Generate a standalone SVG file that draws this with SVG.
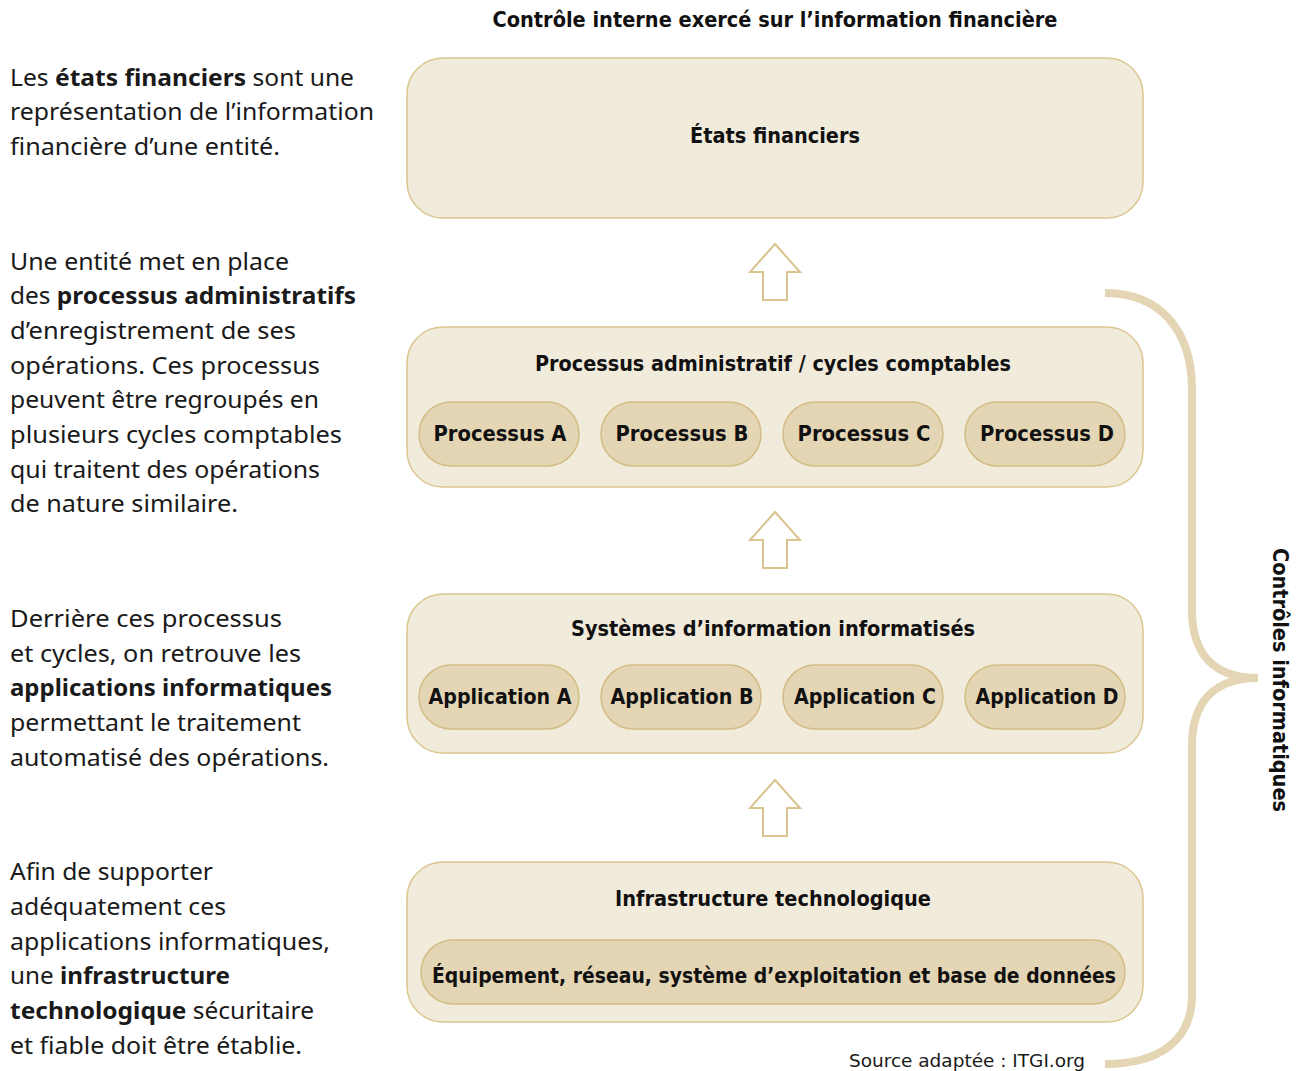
<svg xmlns="http://www.w3.org/2000/svg" width="1300" height="1071" viewBox="0 0 1300 1071">
<style>
.box{fill:#f1ebdc;stroke:#dcc690;stroke-width:1.5}
.pill{fill:#e4d6b5;stroke:#d4bd85;stroke-width:1.5}
.arrow{fill:#ffffff;stroke:#d9c38f;stroke-width:2}
.brace{fill:none;stroke:#e4d6b4;stroke-width:8}
.t{font-family:"DejaVu Sans Condensed","DejaVu Sans",sans-serif;font-weight:bold;font-size:21px;fill:#111;text-anchor:middle}
.p{font-family:"DejaVu Sans Condensed","DejaVu Sans",sans-serif;font-weight:bold;font-size:22px;fill:#111;text-anchor:middle}
.l{font-family:"Noto Sans","DejaVu Sans",sans-serif;font-size:23px;fill:#1a1a1a}
.b{font-weight:bold}
.s{font-family:"DejaVu Sans Condensed","DejaVu Sans",sans-serif;font-size:18px;fill:#1a1a1a}
</style>

<text class="t" x="775" y="27" textLength="565" lengthAdjust="spacingAndGlyphs">Contrôle interne exercé sur l’information financière</text>

<g id="left-text">
<text class="l" x="10" y="86" textLength="344" lengthAdjust="spacingAndGlyphs">Les <tspan class="b">états financiers</tspan> sont une</text>
<text class="l" x="10" y="120" textLength="364" lengthAdjust="spacingAndGlyphs">représentation de l’information</text>
<text class="l" x="10" y="155" textLength="270" lengthAdjust="spacingAndGlyphs">financière d’une entité.</text>

<text class="l" x="10" y="270" textLength="279" lengthAdjust="spacingAndGlyphs">Une entité met en place</text>
<text class="l" x="10" y="304" textLength="346" lengthAdjust="spacingAndGlyphs">des <tspan class="b">processus administratifs</tspan></text>
<text class="l" x="10" y="339" textLength="286" lengthAdjust="spacingAndGlyphs">d’enregistrement de ses</text>
<text class="l" x="10" y="374" textLength="310" lengthAdjust="spacingAndGlyphs">opérations. Ces processus</text>
<text class="l" x="10" y="408" textLength="309" lengthAdjust="spacingAndGlyphs">peuvent être regroupés en</text>
<text class="l" x="10" y="443" textLength="332" lengthAdjust="spacingAndGlyphs">plusieurs cycles comptables</text>
<text class="l" x="10" y="478" textLength="310" lengthAdjust="spacingAndGlyphs">qui traitent des opérations</text>
<text class="l" x="10" y="512" textLength="228" lengthAdjust="spacingAndGlyphs">de nature similaire.</text>

<text class="l" x="10" y="627" textLength="272" lengthAdjust="spacingAndGlyphs">Derrière ces processus</text>
<text class="l" x="10" y="662" textLength="291" lengthAdjust="spacingAndGlyphs">et cycles, on retrouve les</text>
<text class="l b" x="10" y="696" textLength="322" lengthAdjust="spacingAndGlyphs">applications informatiques</text>
<text class="l" x="10" y="731" textLength="291" lengthAdjust="spacingAndGlyphs">permettant le traitement</text>
<text class="l" x="10" y="766" textLength="319" lengthAdjust="spacingAndGlyphs">automatisé des opérations.</text>

<text class="l" x="10" y="880" textLength="203" lengthAdjust="spacingAndGlyphs">Afin de supporter</text>
<text class="l" x="10" y="915" textLength="216" lengthAdjust="spacingAndGlyphs">adéquatement ces</text>
<text class="l" x="10" y="950" textLength="320" lengthAdjust="spacingAndGlyphs">applications informatiques,</text>
<text class="l" x="10" y="984" textLength="220" lengthAdjust="spacingAndGlyphs">une <tspan class="b">infrastructure</tspan></text>
<text class="l" x="10" y="1019" textLength="304" lengthAdjust="spacingAndGlyphs"><tspan class="b">technologique</tspan> sécuritaire</text>
<text class="l" x="10" y="1054" textLength="292" lengthAdjust="spacingAndGlyphs">et fiable doit être établie.</text>
</g>

<g id="node-etats">
<rect class="box" x="407" y="58" width="736" height="160" rx="36"/>
<text class="t" x="775" y="143" textLength="170" lengthAdjust="spacingAndGlyphs">États financiers</text>
</g>

<g id="node-processus">
<rect class="box" x="407" y="327" width="736" height="160" rx="36"/>
<text class="t" x="773" y="371" textLength="476" lengthAdjust="spacingAndGlyphs">Processus administratif / cycles comptables</text>
<g id="proc-a"><rect class="pill" x="419" y="402" width="160" height="64" rx="32"/><text class="p" x="500" y="441" textLength="133" lengthAdjust="spacingAndGlyphs">Processus A</text></g>
<g id="proc-b"><rect class="pill" x="601" y="402" width="160" height="64" rx="32"/><text class="p" x="682" y="441" textLength="133" lengthAdjust="spacingAndGlyphs">Processus B</text></g>
<g id="proc-c"><rect class="pill" x="783" y="402" width="160" height="64" rx="32"/><text class="p" x="864" y="441" textLength="133" lengthAdjust="spacingAndGlyphs">Processus C</text></g>
<g id="proc-d"><rect class="pill" x="965" y="402" width="160" height="64" rx="32"/><text class="p" x="1047" y="441" textLength="134" lengthAdjust="spacingAndGlyphs">Processus D</text></g>
</g>

<g id="node-systemes">
<rect class="box" x="407" y="594" width="736" height="159" rx="36"/>
<text class="t" x="773" y="636" textLength="404" lengthAdjust="spacingAndGlyphs">Systèmes d’information informatisés</text>
<g id="app-a"><rect class="pill" x="419" y="665" width="160" height="64" rx="32"/><text class="p" x="500" y="704" textLength="143" lengthAdjust="spacingAndGlyphs">Application A</text></g>
<g id="app-b"><rect class="pill" x="601" y="665" width="160" height="64" rx="32"/><text class="p" x="682" y="704" textLength="143" lengthAdjust="spacingAndGlyphs">Application B</text></g>
<g id="app-c"><rect class="pill" x="783" y="665" width="160" height="64" rx="32"/><text class="p" x="865" y="704" textLength="142" lengthAdjust="spacingAndGlyphs">Application C</text></g>
<g id="app-d"><rect class="pill" x="965" y="665" width="160" height="64" rx="32"/><text class="p" x="1047" y="704" textLength="143" lengthAdjust="spacingAndGlyphs">Application D</text></g>
</g>

<g id="node-infra">
<rect class="box" x="407" y="862" width="736" height="160" rx="36"/>
<text class="t" x="773" y="906" textLength="316" lengthAdjust="spacingAndGlyphs">Infrastructure technologique</text>
<g id="equipement"><rect class="pill" x="421" y="940" width="704" height="64" rx="32"/><text class="t" x="774" y="983" textLength="684" lengthAdjust="spacingAndGlyphs">Équipement, réseau, système d’exploitation et base de données</text></g>
</g>

<g id="connectors">
<polygon class="arrow" points="775,244 800,272 787,272 787,300 763,300 763,272 750,272"/>
<polygon class="arrow" points="775,512 800,540 787,540 787,568 763,568 763,540 750,540"/>
<polygon class="arrow" points="775,780 800,808 787,808 787,836 763,836 763,808 750,808"/>
<path class="brace" d="M1105,293 C1160,293 1192,330 1192,390 L1192,610 C1192,655 1215,678 1258,678 C1215,678 1192,701 1192,746 L1192,995 C1192,1040 1160,1064 1105,1064"/>
</g>

<text class="t" transform="translate(1273,680) rotate(90)" x="0" y="0" textLength="264" lengthAdjust="spacingAndGlyphs">Contrôles informatiques</text>

<text class="s" x="849" y="1067" textLength="236" lengthAdjust="spacingAndGlyphs">Source adaptée : ITGI.org</text>
</svg>
